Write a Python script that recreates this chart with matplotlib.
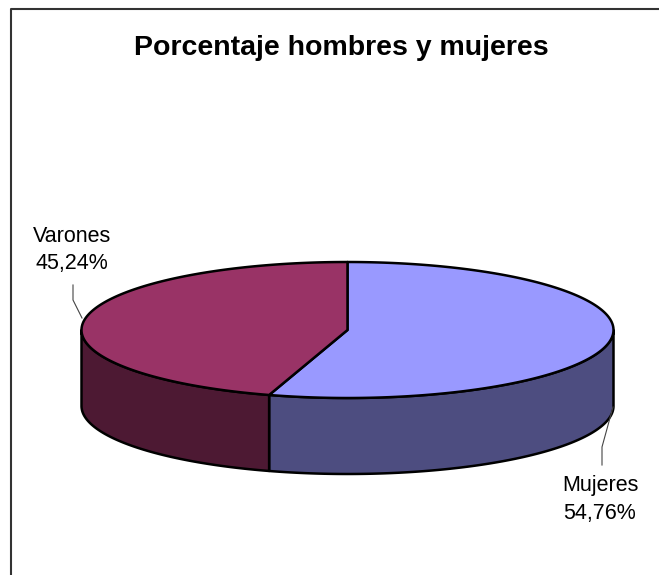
import numpy as np
import matplotlib.pyplot as plt
from matplotlib.patches import Polygon

plt.rcParams['font.family'] = ['Liberation Sans', 'DejaVu Sans']

# datos del grafico
categorias = ["Mujeres", "Varones"]
porcentajes = [54.76, 45.24]
color_arriba = ["#9999FF", "#993366"]
color_lado = ["#4D4D80", "#4D1933"]
titulo = "Porcentaje hombres y mujeres"

# geometria de la torta (en pixeles)
cx, cy, a, b, prof = 347.5, 330, 266, 68, 76


def arco(t0, t1, n=200):
    t = np.radians(np.linspace(t0, t1, n))
    return cx + a * np.cos(t), cy - b * np.sin(t)


fig = plt.figure(figsize=(6.59, 5.75), dpi=100)
ax = fig.add_axes([0, 0, 1, 1])
ax.set_xlim(0, 659)
ax.set_ylim(575, 0)
ax.axis("off")

# borde del area del grafico
ax.plot([11, 11, 659], [575, 9, 9], color="#333333", lw=1.5)

inicio = 90.0
for i, p in enumerate(porcentajes):
    hi = inicio
    lo = inicio - 360 * p / 100
    inicio = lo
    # cara lateral visible (mitad delantera)
    l2, h2 = max(lo, -180), min(hi, 0)
    if h2 > l2:
        x, y = arco(l2, h2)
        xs = np.concatenate([x, x[::-1]])
        ys = np.concatenate([y, y[::-1] + prof])
        ax.add_patch(Polygon(np.column_stack([xs, ys]), closed=True,
                             facecolor=color_lado[i], edgecolor="black",
                             lw=1.8, joinstyle="round"))
    # cara superior
    x, y = arco(hi, lo)
    xs = np.concatenate([[cx], x])
    ys = np.concatenate([[cy], y])
    ax.add_patch(Polygon(np.column_stack([xs, ys]), closed=True,
                         facecolor=color_arriba[i], edgecolor="black",
                         lw=1.8, joinstyle="round"))


def fmt(v):
    return f"{v:.2f}".replace(".", ",") + "%"


# etiquetas con lineas guia
ax.plot([73, 73, 82], [285, 300, 318], color="#444444", lw=0.8)
ax.text(72, 236, categorias[1], ha="center", va="center", fontsize=15.5)
ax.text(72, 264, fmt(porcentajes[1]), ha="center", va="center", fontsize=15.5)

ax.plot([613, 602, 602], [407, 447, 465], color="#444444", lw=0.8)
ax.text(600, 485, categorias[0], ha="center", va="center", fontsize=15.5)
ax.text(600, 514, fmt(porcentajes[0]), ha="center", va="center", fontsize=15.5)

ax.text(341, 48, titulo, ha="center", va="center", fontsize=20.5,
        fontweight="bold")

fig.savefig("out.png", dpi=100)
